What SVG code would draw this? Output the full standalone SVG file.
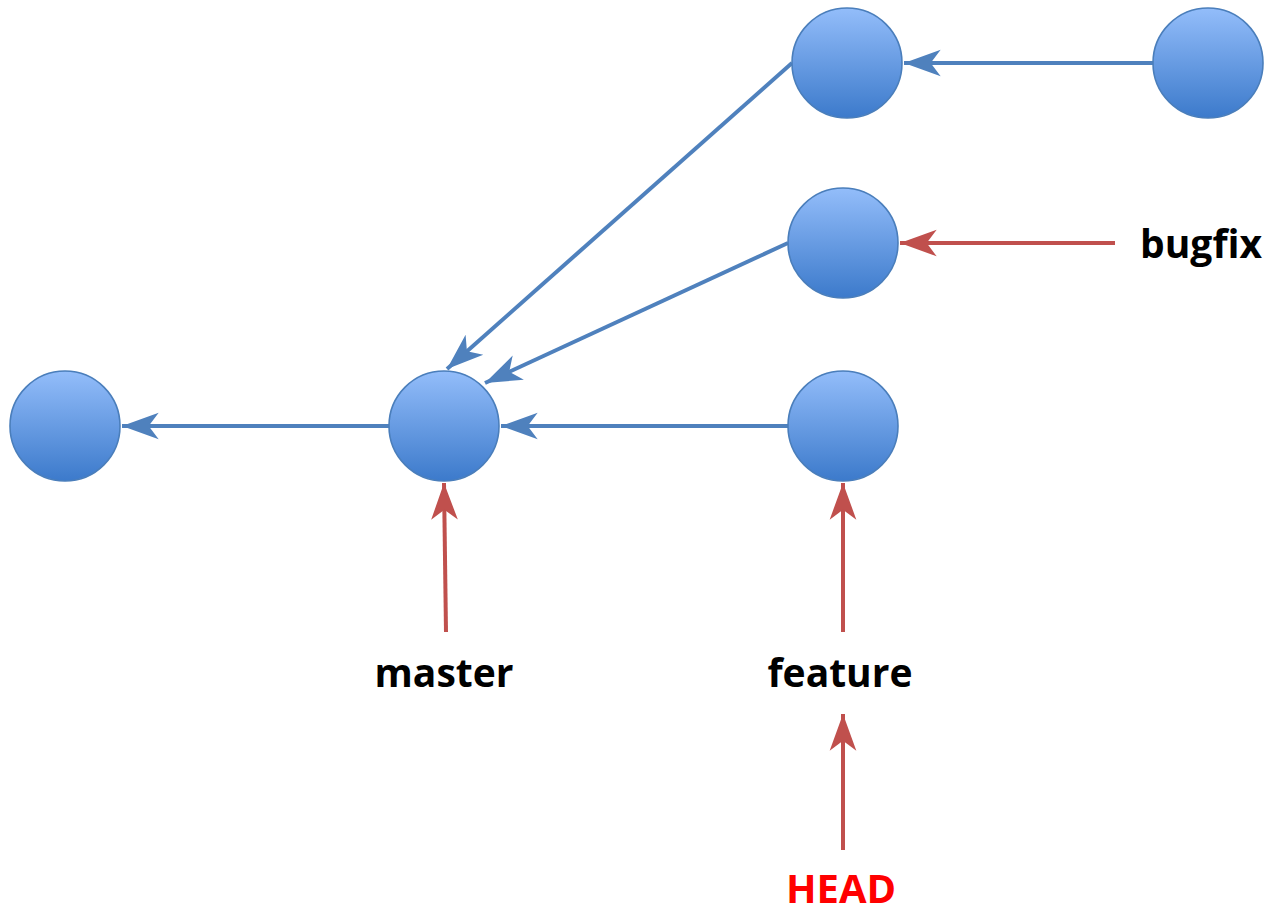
<svg xmlns="http://www.w3.org/2000/svg" width="1268" height="910" viewBox="0 0 1268 910">
  <defs>
    <linearGradient id="commitFill" x1="0" y1="0" x2="0" y2="1">
      <stop offset="0" stop-color="#93bdfa"/>
      <stop offset="1" stop-color="#3c7acb"/>
    </linearGradient>
    <marker id="headBlue" markerUnits="userSpaceOnUse" markerWidth="40" markerHeight="30" viewBox="-34 -13 36 26" refX="0" refY="0" orient="auto">
      <path d="M0,0 L-33,-12 L-24,0 L-33,12 Z" fill="#4f81bd"/>
    </marker>
    <marker id="headRed" markerUnits="userSpaceOnUse" markerWidth="40" markerHeight="30" viewBox="-34 -13 36 26" refX="0" refY="0" orient="auto">
      <path d="M0,0 L-33,-12 L-24,0 L-33,12 Z" fill="#c0504d"/>
    </marker>
  </defs>
  <style>
    .commit { fill: url(#commitFill); stroke: #4a7ebb; stroke-width: 1.6; }
    .parent { stroke: #4f81bd; stroke-width: 4; fill: none; marker-end: url(#headBlue); }
    .ref { stroke: #c0504d; stroke-width: 4; fill: none; marker-end: url(#headRed); }
    .label { font-family: "Open Sans", "Liberation Sans", sans-serif; font-weight: bold; font-size: 39px; fill: #000; }
    .head { fill: #ff0000; font-size: 40px; }
  </style>

  <g id="connectors">
    <line class="parent" x1="1153" y1="63" x2="904" y2="63"/>
    <line class="parent" x1="792" y1="63" x2="447" y2="369"/>
    <line class="parent" x1="788" y1="243" x2="485" y2="383"/>
    <line class="parent" x1="788" y1="426" x2="501" y2="426"/>
    <line class="parent" x1="389" y1="426" x2="122" y2="426"/>
    <line class="ref" x1="1115" y1="243" x2="900" y2="243"/>
    <line class="ref" x1="446" y1="632" x2="444" y2="483"/>
    <line class="ref" x1="843" y1="632" x2="843" y2="483"/>
    <line class="ref" x1="843" y1="850" x2="843" y2="714"/>
  </g>

  <g id="commit-root"><circle class="commit" cx="65" cy="426" r="55"/></g>
  <g id="commit-master"><circle class="commit" cx="444" cy="426" r="55"/></g>
  <g id="commit-feature"><circle class="commit" cx="843" cy="426" r="55"/></g>
  <g id="commit-bugfix"><circle class="commit" cx="843" cy="243" r="55"/></g>
  <g id="commit-top"><circle class="commit" cx="847" cy="63" r="55"/></g>
  <g id="commit-top-tip"><circle class="commit" cx="1208" cy="63" r="55"/></g>

  <g id="ref-bugfix"><text class="label" x="1201" y="258" text-anchor="middle">bugfix</text></g>
  <g id="ref-master"><text class="label" x="444" y="687" text-anchor="middle">master</text></g>
  <g id="ref-feature"><text class="label" x="840" y="687" text-anchor="middle">feature</text></g>
  <g id="ref-head"><text class="label head" x="841" y="903" text-anchor="middle">HEAD</text></g>
</svg>
